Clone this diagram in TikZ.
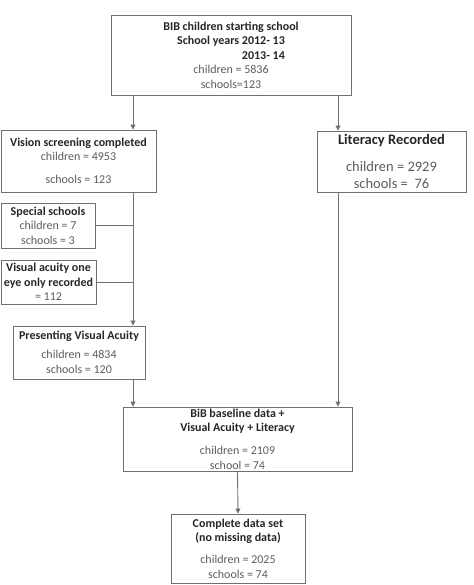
\documentclass[tikz,border=0pt]{standalone}
\usepackage{fontspec}
\setmainfont{Carlito}
\usetikzlibrary{arrows.meta,positioning,calc}
\definecolor{boxgrey}{RGB}{112,112,112}
\definecolor{headgrey}{RGB}{38,38,38}
\definecolor{numgrey}{RGB}{92,92,92}
\newcommand{\hd}[1]{\textbf{\textcolor{headgrey}{#1}}}

\begin{document}
\begin{tikzpicture}[x=1pt, y=1pt,
    flowbox/.style={rectangle, draw=boxgrey, line width=0.9pt, align=center,
                 inner sep=0pt, text=numgrey, font=\fontsize{12}{14.5}\selectfont},
    arr/.style={-{Triangle[length=5pt,width=5pt]}, line width=0.9pt, boxgrey},
    ln/.style={line width=0.9pt, boxgrey}
]
\useasboundingbox (0,0) rectangle (473,-585);
\coordinate (lx) at (133,0);
\coordinate (rx) at (338,0);

\node[flowbox, minimum width=240, minimum height=80] (start) at (231,-55)
  {\hd{BIB children starting school}\\
   \hd{School years 2012- 13}\\
   \hd{\phantom{School years }2013- 14}\\
   children = 5836\\
   schools=123};
\node[flowbox, minimum width=155, minimum height=62] (vision) at (78.5,-161)
  {\hd{Vision screening completed}\\
   children = 4953\\[8.5pt]
   schools = 123};
\node[flowbox, minimum width=149, minimum height=61, font=\fontsize{14.5}{17}\selectfont] (literacy) at (391.5,-161.5)
  {\hd{Literacy Recorded}\\[10pt]
   children = 2929\\
   schools =\ \ 76};
\node[flowbox, minimum width=94, minimum height=45] (special) at (48,-225.5)
  {\hd{Special schools}\\
   children = 7\\
   schools = 3};
\node[flowbox, minimum width=95, minimum height=44] (oneeye) at (48.5,-282)
  {\hd{Visual acuity one}\\
   \hd{eye only recorded}\\
   = 112};
\node[flowbox, minimum width=132, minimum height=53] (pva) at (79,-352.5)
  {\hd{Presenting Visual Acuity}\\[4.5pt]
   children = 4834\\
   schools = 120};
\node[flowbox, minimum width=229, minimum height=64] (baseline) at (237.5,-439)
  {\hd{BiB baseline data +}\\
   \hd{Visual Acuity + Literacy}\\[8.5pt]
   children = 2109\\
   school = 74};
\node[flowbox, minimum width=134, minimum height=69] (complete) at (238,-548.5)
  {\hd{Complete data set}\\
   \hd{(no missing data)}\\[7.5pt]
   children = 2025\\
   schools = 74};

\draw[arr] (start.south -| lx) -- (vision.north -| lx);
\draw[arr] (start.south -| rx) -- (literacy.north -| rx);
\draw[arr] (vision.south -| lx) -- (pva.north -| lx);
\draw[ln] (special.east) -- (special.east -| lx);
\draw[ln] (oneeye.east) -- (oneeye.east -| lx);
\draw[arr] (pva.south -| lx) -- (baseline.north -| lx);
\draw[arr] (literacy.south -| rx) -- (baseline.north -| rx);
\draw[arr] (baseline.south) -- (complete.north);
\end{tikzpicture}
\end{document}
